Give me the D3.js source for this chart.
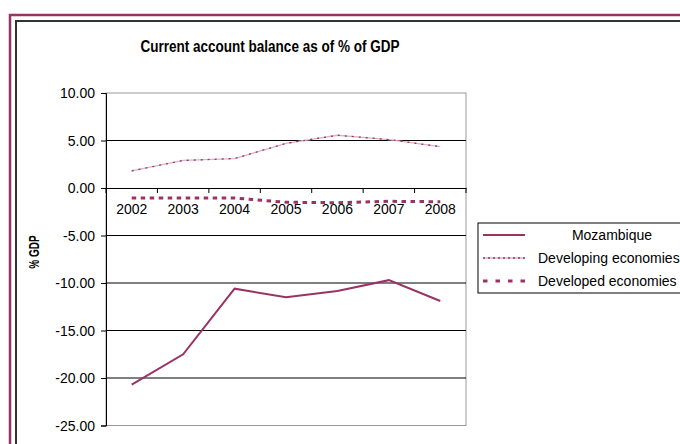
<!DOCTYPE html>
<html>
<head>
<meta charset="utf-8">
<script src="https://cdn.jsdelivr.net/npm/d3@7"></script>
<style>
  body { margin: 0; background: #fff; }
  svg { display: block; font-family: "Liberation Sans", Arial, sans-serif; }
</style>
</head>
<body>
<svg id="chart" width="680" height="444"></svg>
<script>
const years = ["2002", "2003", "2004", "2005", "2006", "2007", "2008"];
const mozambique = [-20.7, -17.5, -10.6, -11.5, -10.85, -9.7, -11.9];
const developing = [1.8, 2.9, 3.1, 4.7, 5.55, 5.1, 4.35];
const developed = [-1.05, -1.05, -1.05, -1.5, -1.55, -1.4, -1.45];
const yTicks = [10, 5, 0, -5, -10, -15, -20, -25];
const seriesNames = ["Mozambique", "Developing economies", "Developed economies"];

const plum = "#993366";
const font = "Liberation Sans, Arial, sans-serif";
const svg = d3.select("#chart");

// the original text is a bit taller than wide: draw bigger, keep the narrower width
function stretch(sel, baseSize, bigSize) {
  sel.each(function () {
    const t = d3.select(this).attr("font-size", baseSize);
    const w = this.getComputedTextLength();
    t.attr("font-size", bigSize).attr("textLength", w).attr("lengthAdjust", "spacingAndGlyphs");
  });
}

// outer frames (run past the right/bottom edge like the original crop)
svg.append("rect").attr("x", 10).attr("y", 15).attr("width", 720).attr("height", 500)
  .attr("fill", "none").attr("stroke", plum).attr("stroke-width", 2.5);
svg.append("rect").attr("x", 16).attr("y", 21).attr("width", 720).attr("height", 500)
  .attr("fill", "none").attr("stroke", "#333").attr("stroke-width", 2);

svg.append("text").attr("x", 270).attr("y", 52).attr("text-anchor", "middle")
  .attr("font-weight", "bold").text("Current account balance as of % of GDP")
  .call(stretch, 13.5, 16);

const plotL = 106, plotR = 466, plotT = 93, plotB = 425.5;
const x = d3.scaleBand().domain(years).range([plotL, plotR]);
const y = d3.scaleLinear().domain([-25, 10]).range([plotB, plotT]);

// plot border (grey) and gridlines
svg.append("rect").attr("x", plotL).attr("y", plotT).attr("width", plotR - plotL).attr("height", plotB - plotT)
  .attr("fill", "none").attr("stroke", "#999").attr("stroke-width", 1);
svg.append("g").selectAll("line").data(yTicks.filter(d => d !== 10 && d !== -25 && d !== 0)).join("line")
  .attr("x1", plotL).attr("x2", plotR).attr("y1", d => y(d)).attr("y2", d => y(d))
  .attr("stroke", "#000").attr("stroke-width", 1);

// y axis
const yAxis = svg.append("g").attr("transform", `translate(${plotL},0)`)
  .call(d3.axisLeft(y).tickValues(yTicks).tickFormat(d => d.toFixed(2)).tickSize(5).tickPadding(6));
yAxis.select(".domain").attr("stroke", "#000");
yAxis.selectAll("text").attr("font-family", font).attr("fill", "#000").call(stretch, 14, 15.5);

// x axis at zero
const xAxis = svg.append("g").attr("transform", `translate(0,${y(0)})`)
  .call(d3.axisBottom(x).tickSize(0).tickPadding(16));
xAxis.select(".domain").attr("stroke", "#000");
xAxis.selectAll("text").attr("font-size", 14).attr("font-family", font).attr("fill", "#000");
xAxis.append("g").selectAll("line").data(years.map(d => x(d)).concat([plotR])).join("line")
  .attr("x1", d => d).attr("x2", d => d).attr("y1", 0).attr("y2", 5).attr("stroke", "#000");

svg.append("text").attr("transform", "translate(38.5,252) rotate(-90)").attr("text-anchor", "middle")
  .attr("font-weight", "bold").text("% GDP")
  .call(stretch, 10, 14);

const line = d3.line().x((d, i) => x(years[i]) + x.bandwidth() / 2).y(d => y(d));

svg.append("path").datum(developing).attr("d", line).attr("fill", "none")
  .attr("stroke", "#ddb3c8").attr("stroke-width", 1.3);
svg.append("path").datum(developing).attr("d", line).attr("fill", "none")
  .attr("stroke", plum).attr("stroke-width", 1.3).attr("stroke-dasharray", "2,5");
svg.append("path").datum(developed).attr("d", line).attr("fill", "none")
  .attr("stroke", plum).attr("stroke-width", 3).attr("stroke-dasharray", "4.5,4.5");
svg.append("path").datum(mozambique).attr("d", line).attr("fill", "none")
  .attr("stroke", plum).attr("stroke-width", 2);

// legend
const lg = svg.append("g");
lg.append("rect").attr("x", 478).attr("y", 223).attr("width", 260).attr("height", 70)
  .attr("fill", "#fff").attr("stroke", "#000").attr("stroke-width", 1);
const rows = [235, 258, 281];
seriesNames.forEach((name, i) => {
  const ry = rows[i];
  if (i === 0) {
    lg.append("line").attr("x1", 483).attr("x2", 525).attr("y1", ry).attr("y2", ry)
      .attr("stroke", plum).attr("stroke-width", 2);
  } else if (i === 1) {
    lg.append("line").attr("x1", 483).attr("x2", 525).attr("y1", ry).attr("y2", ry)
      .attr("stroke", "#ddb3c8").attr("stroke-width", 1.3);
    lg.append("line").attr("x1", 483).attr("x2", 525).attr("y1", ry).attr("y2", ry)
      .attr("stroke", plum).attr("stroke-width", 1.5).attr("stroke-dasharray", "2,3");
  } else {
    lg.append("line").attr("x1", 483).attr("x2", 525).attr("y1", ry).attr("y2", ry)
      .attr("stroke", plum).attr("stroke-width", 3).attr("stroke-dasharray", "4.5,8");
  }
  lg.append("text").attr("x", i === 0 ? 612 : 538).attr("y", ry + 5)
    .attr("text-anchor", i === 0 ? "middle" : "start")
    .attr("font-size", 14).text(name);
});
</script>
</body>
</html>
